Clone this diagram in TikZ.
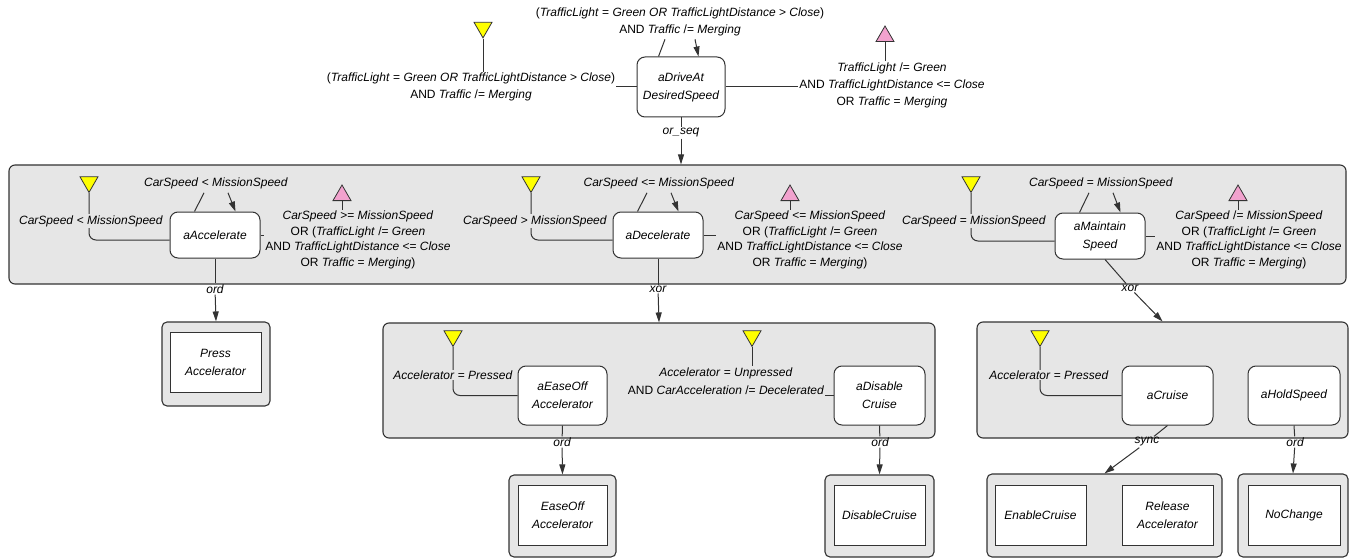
\documentclass[tikz,border=0pt]{standalone}
\usepackage{fontspec}
\setmainfont{Liberation Sans}
\usetikzlibrary{arrows.meta,shapes.geometric,calc}
\definecolor{grp}{HTML}{E6E6E6}
\definecolor{ln}{HTML}{333333}
\definecolor{ylw}{HTML}{FFFF00}
\definecolor{pnk}{HTML}{F2A2CE}
\newcommand{\vn}[1]{\textit{#1}}
\pgfdeclarelayer{back}
\pgfdeclarelayer{lines}
\pgfsetlayers{back,lines,main}
\tikzset{
  act/.style={draw=ln, line width=1pt, fill=white, rounded corners=8pt, minimum width=90pt, minimum height=46pt, align=center, inner sep=1pt, font=\fontsize{12}{18}\selectfont\itshape},
  grpbox/.style={draw=ln, line width=1.1pt, fill=grp, rounded corners=6pt, inner sep=0pt},
  leafo/.style={draw=ln, line width=1.1pt, fill=grp, rounded corners=5pt, inner sep=0pt},
  leafi/.style={draw=ln, line width=1pt, fill=white, rectangle, minimum width=91pt, minimum height=60pt, align=center, inner sep=1pt, font=\fontsize{12}{18}\selectfont\itshape},
  condtop/.style={align=center, inner sep=1pt, fill=white, font=\fontsize{12}{17}\selectfont},
  condin/.style={align=center, inner sep=1pt, fill=grp, font=\fontsize{12}{15.5}\selectfont},
  elab/.style={inner sep=1pt, font=\fontsize{12}{14}\selectfont\itshape},
  ytri/.style={regular polygon, regular polygon sides=3, shape border rotate=180, minimum size=20.8pt, inner sep=0pt, fill=ylw, draw=ln, line width=0.8pt},
  ptri/.style={regular polygon, regular polygon sides=3, minimum size=20.8pt, inner sep=0pt, fill=pnk, draw=ln, line width=0.8pt},
  conn/.style={draw=ln, line width=1pt},
  arr/.style={conn, -{Triangle[length=10pt,width=6pt]}}
}
\begin{document}
\begin{tikzpicture}[x=1pt,y=-1pt]
\useasboundingbox (0,0) rectangle (1355,559);

% ---------- background boxes ----------
\begin{pgfonlayer}{back}
\node[grpbox, minimum width=1337pt, minimum height=119pt] (G1) at (677.5,224.5) {};
\node[grpbox, minimum width=552pt, minimum height=115pt] (G2) at (659,380.5) {};
\node[grpbox, minimum width=371pt, minimum height=116pt] (G3) at (1162.5,380) {};
\node[leafo, minimum width=108pt, minimum height=84pt] (pressO) at (216,364) {};
\node[leafo, minimum width=107pt, minimum height=82pt] (easeO) at (562.5,516) {};
\node[leafo, minimum width=109pt, minimum height=82pt] (disO) at (879.5,516) {};
\node[leafo, minimum width=235pt, minimum height=83pt] (enO) at (1104.5,515.5) {};
\node[leafo, minimum width=110pt, minimum height=83pt] (noO) at (1293,515.5) {};
\end{pgfonlayer}

% ---------- top ----------
\node[act, minimum width=88pt, minimum height=60pt] (drive) at (681,87) {aDriveAt\\DesiredSpeed};
\node[ytri] (t0) at (483,27.5) {};
\node[condtop] (c0l) at (471,87) {(\vn{TrafficLight} = \vn{Green OR TrafficLightDistance} > \vn{Close})\\AND \vn{Traffic} /= \vn{Merging}};
\node[condtop] (c0t) at (680,22) {(\vn{TrafficLight} = \vn{Green OR TrafficLightDistance} > \vn{Close})\\AND \vn{Traffic} /= \vn{Merging}};
\node[ptri] (p0) at (885,36.4) {};
\node[condtop] (c0r) at (892,85) {\vn{TrafficLight} /= \vn{Green}\\AND \vn{TrafficLightDistance} <= \vn{Close}\\OR \vn{Traffic} = \vn{Merging}};
\node[elab] (l0) at (681,133) {or\_seq};

% ---------- row 1 ----------
\node[act] (acc) at (215,235) {aAccelerate};
\node[ytri] (t1) at (89,182) {};
\node[condin] (c1l) at (91,221) {\vn{CarSpeed} < \vn{MissionSpeed}};
\node[condin] (c1t) at (216,183) {\vn{CarSpeed} < \vn{MissionSpeed}};
\node[ptri] (p1) at (342,195.4) {};
\node[condin] (c1r) at (358,240) {\vn{CarSpeed} >= \vn{MissionSpeed}\\OR (\vn{TrafficLight} /= \vn{Green}\\AND \vn{TrafficLightDistance} <= \vn{Close}\\OR \vn{Traffic} = \vn{Merging})};
\node[elab] (l1) at (215,289) {ord};

\node[act] (dec) at (658,235) {aDecelerate};
\node[ytri] (t2) at (531,182) {};
\node[condin] (c2l) at (535,221) {\vn{CarSpeed} > \vn{MissionSpeed}};
\node[condin] (c2t) at (659,183) {\vn{CarSpeed} <= \vn{MissionSpeed}};
\node[ptri] (p2) at (790,195.4) {};
\node[condin] (c2r) at (810,240) {\vn{CarSpeed} <= \vn{MissionSpeed}\\OR (\vn{TrafficLight} /= \vn{Green}\\AND \vn{TrafficLightDistance} <= \vn{Close}\\OR \vn{Traffic} = \vn{Merging})};
\node[elab] (l2) at (658,289) {xor};

\node[act] (mnt) at (1100,236) {aMaintain\\Speed};
\node[ytri] (t3) at (971,182) {};
\node[condin] (c3l) at (974,221) {\vn{CarSpeed} = \vn{MissionSpeed}};
\node[condin] (c3t) at (1101,183) {\vn{CarSpeed} = \vn{MissionSpeed}};
\node[ptri] (p3) at (1238,195.4) {};
\node[condin] (c3r) at (1249,240) {\vn{CarSpeed} /= \vn{MissionSpeed}\\OR (\vn{TrafficLight} /= \vn{Green}\\AND \vn{TrafficLightDistance} <= \vn{Close}\\OR \vn{Traffic} = \vn{Merging})};
\node[elab] (l3) at (1130,288) {xor};

% ---------- row 2 ----------
\node[act, minimum width=89pt, minimum height=59pt] (ease) at (562.5,395.5) {aEaseOff\\Accelerator};
\node[act, minimum width=91pt, minimum height=59pt] (dis) at (879.5,395.5) {aDisable\\Cruise};
\node[ytri] (t4) at (453,336) {};
\node[condin] (c4) at (453,375) {\vn{Accelerator} = \vn{Pressed}};
\node[ytri] (t5) at (752,336) {};
\node[condin, font=\fontsize{12}{18}\selectfont] (c5) at (726,381) {\vn{Accelerator} = \vn{Unpressed}\\AND \vn{CarAcceleration} /= \vn{Decelerated}};
\node[elab] (l4) at (562,442) {ord};
\node[elab] (l5) at (880,442) {ord};

\node[act, minimum width=91pt, minimum height=59pt] (cru) at (1167.5,395.5) {aCruise};
\node[act, minimum width=92pt, minimum height=59pt] (hold) at (1294,395.5) {aHoldSpeed};
\node[ytri] (t6) at (1040,336) {};
\node[condin] (c6) at (1049,375) {\vn{Accelerator} = \vn{Pressed}};
\node[elab] (l6) at (1147,442) {sync};
\node[elab] (l7) at (1295,442) {ord};

% ---------- leaves ----------
\node[leafi] (press) at (215.5,362.5) {Press\\Accelerator};
\node[leafi, minimum width=89pt] (easeI) at (562.5,515) {EaseOff\\Accelerator};
\node[leafi] (disI) at (879.5,515) {DisableCruise};
\node[leafi] (enI) at (1040.5,515) {EnableCruise};
\node[leafi] (relI) at (1167.5,515) {Release\\Accelerator};
\node[leafi, minimum width=92pt] (noI) at (1294,515) {NoChange};

% ---------- connectors ----------
\begin{pgfonlayer}{lines}
% top
\draw[conn] (t0.south) -- (t0.south |- c0l.north);
\draw[conn] (c0l.east |- drive.west) -- (drive.west);
\draw[conn] ($(drive.north west)+(22,0)$) -- ($(c0t.south)+(-15,2)$);
\draw[arr] ($(c0t.south)+(15,2)$) -- ($(drive.north west)+(62,0)$);
\draw[conn] (drive.east) -- (drive.east -| c0r.west);
\draw[conn] (p0.south) -- (p0.south |- c0r.north);
\draw[conn] (drive.south) -- (l0);
\draw[arr] (l0) -- (l0 |- G1.north);
% row 1
\draw[conn, rounded corners=7pt] (t1.south) |- ($(acc.west)+(0,5)$);
\draw[conn] ($(acc.north west)+(25,0)$) -- ($(c1t.south)+(-12,3)$);
\draw[arr] ($(c1t.south)+(12,3)$) -- ($(acc.north west)+(66,0)$);
\draw[conn] (p1.south) -- (p1.south |- c1r.north);
\draw[conn] (acc.east) -- (acc.east -| c1r.west);
\draw[conn] (acc.south) -- (l1);
\draw[arr] (l1) -- (pressO.north);

\draw[conn, rounded corners=7pt] (t2.south) |- ($(dec.west)+(0,5)$);
\draw[conn] ($(dec.north west)+(25,0)$) -- ($(c2t.south)+(-12,3)$);
\draw[arr] ($(c2t.south)+(12,3)$) -- ($(dec.north west)+(66,0)$);
\draw[conn] (p2.south) -- (p2.south |- c2r.north);
\draw[conn] (dec.east) -- (dec.east -| c2r.west);
\draw[conn] (dec.south) -- (l2);
\draw[arr] (l2) -- (G2.north);

\draw[conn, rounded corners=7pt] (t3.south) |- ($(mnt.west)+(0,5)$);
\draw[conn] ($(mnt.north west)+(25,0)$) -- ($(c3t.south)+(-12,3)$);
\draw[arr] ($(c3t.south)+(12,3)$) -- ($(mnt.north west)+(66,0)$);
\draw[conn] (p3.south) -- (p3.south |- c3r.north);
\draw[conn] (mnt.east) -- (mnt.east -| c3r.west);
\draw[conn] ($(mnt.south)+(5,0)$) -- (l3);
\draw[arr] (l3) -- (G3.north);
% row 2
\draw[conn, rounded corners=7pt] (t4.south) |- (ease.west);
\draw[conn] (t5.south) -- (t5.south |- c5.north);
\draw[conn] (c5.east |- dis.west) -- (dis.west);
\draw[conn] (ease.south) -- (l4);
\draw[arr] (l4) -- (easeO.north);
\draw[conn] (dis.south) -- (l5);
\draw[arr] (l5) -- (disO.north);
\draw[conn, rounded corners=7pt] (t6.south) |- (cru.west);
\draw[conn] (cru.south) -- (l6);
\draw[arr] (l6) -- (enO.north);
\draw[conn] (hold.south) -- (l7);
\draw[arr] (l7) -- (noO.north);
\end{pgfonlayer}
\end{tikzpicture}
\end{document}
